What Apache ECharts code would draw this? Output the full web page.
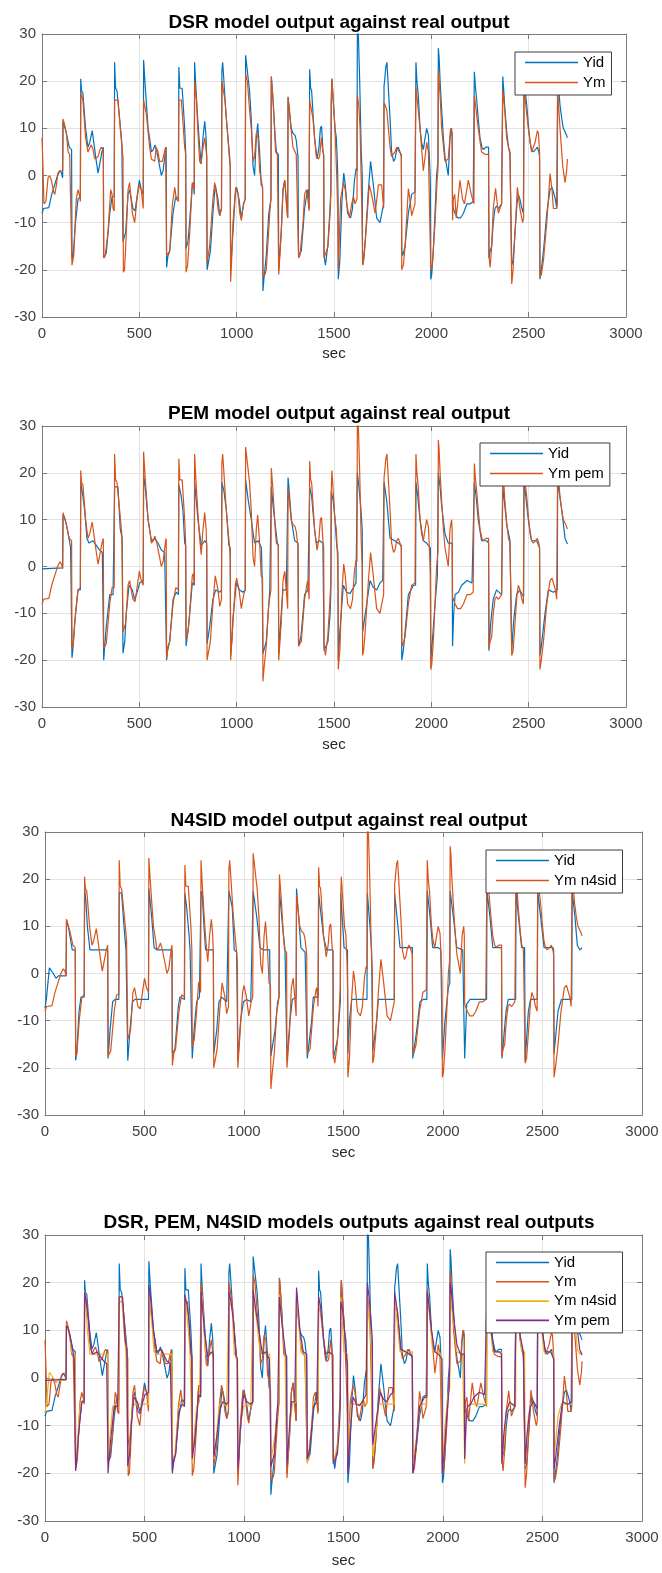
<!DOCTYPE html>
<html>
<head>
<meta charset="utf-8">
<title>model outputs against real output</title>
<script src="https://cdn.jsdelivr.net/npm/echarts@6.0.0/dist/echarts.min.js"></script>
<style>
  body { margin:0; background:#fff; }
  .box { position:absolute; left:0; width:662px; }
</style>
</head>
<body>
<div id="c1" class="box" style="top:0;height:380px"></div>
<div id="c2" class="box" style="top:380px;height:390px"></div>
<div id="c3" class="box" style="top:770px;height:395px"></div>
<div id="c4" class="box" style="top:1165px;height:408px"></div>
<script>
// [sec, value]
var yid = [
  [0,-8],[8,-7],[35,-6.8],[50,-4],[65,-2],[80,0],[92,1],[100,0.5],[106,-0.5],
  [108,11.5],[125,9],[140,6],[152,5.5],
  [154,-17.5],[160,-17],[172,-10],[185,-5],[197,-4.5],
  [199,20.5],[203,18],[210,17.5],[224,10],[236,6],[245,7],[258,9.5],[266,9.5],[279,3],[288,0.5],[298,0.5],[308,5],[315,6],
  [317,-17.5],[330,-16.5],[348,-8],[360,-4.5],[371,-4.5],
  [373,24],[378,18.5],[385,18],[399,12],[410,7],[414,7],
  [416,-14],[430,-12],[442,-4],[450,-3],[467,-7],[478,-7.5],[490,-4],[500,-1],[510,-3],[520,-4],
  [522,24.5],[530,19],[545,10],[556,7],[562,5],[572,5.5],[580,6.5],[590,5],[604,2],[613,0],[622,1],[635,5.5],[638,6],
  [640,-19.5],[647,-17],[656,-16],[673,-8],[687,-4.5],[700,-5],
  [703,23],[708,18.5],[720,18.5],[733,10],[738,5],
  [740,-15.5],[750,-14],[760,-9],[772,-2],[778,-1.5],[782,-4],
  [784,24],[790,19],[800,12],[810,6],[818,2.5],[827,8],[836,11.5],[843,8],[846,4],
  [848,-20],[856,-20],[865,-16],[878,-8],[890,-2],[904,-5],[913,-8.5],[922,-7],
  [924,22],[928,24],[933,21],[945,13],[955,8],[964,4],[967,2],
  [969,-20],[981,-12],[993,-4],[1000,-2.5],[1012,-5],[1024,-9],[1036,-6],[1044,-5],
  [1046,25.5],[1050,24],[1058,24],[1066,18],[1075,12],[1084,2],[1092,0],[1101,8],[1108,11],[1118,5],[1126,-2],[1133,-2.5],
  [1135,-24.5],[1140,-22],[1152,-17],[1165,-8],[1176,-5],
  [1178,21],[1187,16],[1198,8],[1204,5],[1214,4.5],
  [1216,-20],[1229,-12],[1238,-3],[1247,-1],[1255,-5],[1262,-9],
  [1264,16.7],[1272,13.5],[1280,10],[1289,9],[1300,8.5],[1306,7.5],[1315,4],
  [1318,-17],[1332,-16],[1349,-7],[1362,-3.5],[1366,-3],[1372,-7],
  [1375,22.5],[1380,18.5],[1385,18],[1400,8],[1413,3.5],[1423,6],[1430,10],[1436,10.5],[1443,5.5],[1447,4],
  [1449,-17],[1456,-19],[1468,-15],[1478,-8],[1484,-3],
  [1486,16],[1489,20.5],[1496,16],[1505,10],[1512,8],[1518,2],[1521,-5],
  [1522,-22],[1530,-18],[1540,-6],[1550,0.5],[1558,-2],[1570,-8],[1585,-9],[1595,-7],[1605,-1],[1614,1.5],[1618,1],
  [1620,31],[1625,30],[1632,20],[1640,5],[1645,0],
  [1647,-19],[1652,-18],[1660,-14],[1676,-3.5],[1688,3],[1702,-2],[1719,-9],[1736,-10],[1750,-7],[1755,-6],
  [1757,19],[1760,20],[1766,23],[1772,24],[1780,18],[1788,12],[1796,5],[1806,3],[1813,3.5],[1822,5.5],[1830,6],[1839,5],[1846,4],
  [1848,-16],[1853,-17],[1865,-15],[1882,-8],[1899,-4],[1916,-3.5],[1919,-3.5],
  [1921,24],[1926,20],[1933,17],[1942,10],[1950,7],[1959,5.5],[1968,8],[1976,10],[1985,8.5],[1993,1],[1995,-2],
  [1997,-22],[2002,-21],[2010,-16],[2019,-8],[2027,0],[2034,3],
  [2036,27],[2040,25],[2045,20],[2053,14],[2062,8],[2070,4],[2079,2],[2087,0],[2096,8],[2104,10],[2107,8],
  [2109,-6.5],[2122,-8],[2135,-9],[2150,-9],[2165,-8],[2183,-6],[2200,-6],[2215,-5.5],[2219,-5.5],
  [2221,22],[2226,19],[2233,16],[2241,12],[2250,8],[2260,6],[2267,5.5],[2280,6],[2294,6],
  [2296,-17.5],[2302,-16],[2310,-15],[2318,-10],[2327,-7],[2335,-6.5],[2345,-7],[2361,-6],[2365,-6],
  [2367,21],[2372,18],[2378,14],[2388,9],[2396,6],[2404,5],[2410,5],
  [2413,-19],[2420,-18],[2430,-12],[2440,-6],[2447,-4],[2455,-5],[2465,-7],[2473,-8],
  [2476,20],[2482,18],[2490,15],[2498,11],[2507,7],[2515,5.5],[2524,5],[2535,5.5],[2545,6],[2552,5],[2556,4],
  [2558,-22],[2565,-20],[2576,-16],[2593,-8],[2610,-3],[2620,-2.5],[2627,-3.5],[2637,-5],[2644,-7],[2647,-7],
  [2649,22],[2655,18],[2661,15],[2670,12],[2678,10],[2690,9],[2699,8]
];

var ymDsr = [
  [0,8],[5,2],[10,-6],[20,-5.5],[31,-0.5],[39,0],[48,-1],[60,-3.5],[66,-4],[74,-2],[82,0.5],[91,1],[106,1],
  [108,12],[115,11],[125,9],[134,5],[142,4.5],[152,4.5],
  [154,-19],[163,-17],[176,-5],[185,-3],[194,-4.5],[197,-5.5],
  [199,17.5],[210,16],[224,8],[236,5],[245,5],[253,6.5],[262,5.5],[271,3.5],[280,3.5],[288,4],[298,5.5],[305,6],[315,5.5],
  [317,-17.5],[325,-17],[339,-12],[353,-3],[360,-4],[365,-7],[371,-7.5],
  [373,16],[390,16],[402,10],[413,5],[416,4],
  [418,-20.5],[424,-20],[430,-15],[442,-3],[450,-1.5],[464,-8],[476,-10],[488,-5],[498,-2],[510,-3],[520,-7],
  [522,16],[536,13],[553,6],[562,3.5],[579,3],[587,6],[596,5],[604,3],[618,3],[635,6],[638,6],
  [640,-17],[656,-16],[670,-6],[682,-2.5],[690,-5],[701,-5.5],
  [703,16],[716,16],[726,10],[733,6],[738,4.5],
  [740,-20.5],[748,-19],[759,-12],[772,-1.5],[782,-3],
  [784,20],[793,16],[800,10],[810,3],[816,2.5],[824,5],[836,8],[844,5],[846,4],
  [848,-18.5],[861,-15],[878,-5],[887,-1.5],[897,-4],[904,-7],[913,-8.5],[922,-7],
  [924,20],[940,16],[955,8],[964,3],[967,2],
  [969,-22.5],[974,-18],[981,-10],[995,-2.5],[1007,-4],[1016,-8],[1024,-9.5],[1035,-6],[1044,-5],
  [1046,21.5],[1055,20],[1066,14],[1075,10],[1084,3],[1092,4],[1101,9],[1110,8],[1118,1],[1133,-2.5],
  [1135,-21.5],[1145,-21],[1152,-20],[1170,-8],[1176,-5],
  [1178,21],[1187,16],[1200,5],[1209,4.5],[1214,4.5],
  [1216,-21],[1229,-12],[1238,-3],[1247,-1],[1255,-6],[1262,-9],
  [1264,16.5],[1272,13],[1289,6],[1306,4.5],[1315,4.5],
  [1318,-17.5],[1325,-17],[1341,-10],[1349,-4],[1358,-3],[1366,-5],[1372,-7.5],
  [1375,16],[1392,12],[1409,4],[1420,3.5],[1426,4],[1435,8],[1443,5],[1447,4.5],
  [1449,-17.5],[1469,-15],[1480,-8],[1484,-4],
  [1486,15],[1489,20.5],[1496,16],[1505,10],[1514,0],[1519,-8],
  [1522,-20],[1526,-15],[1534,-5],[1548,-1.5],[1558,-3],[1565,-6],[1579,-9],[1591,-6],[1600,-4.5],[1608,-6],[1618,-5],
  [1620,17],[1627,15],[1634,10],[1642,-5],[1645,-12],
  [1647,-19],[1655,-17],[1668,-10],[1681,-2],[1693,-4],[1711,-8],[1720,-5],[1728,-2],[1745,-2],[1755,-7],
  [1757,15.5],[1771,14],[1788,6],[1796,4],[1805,4],[1813,5],[1822,6],[1836,5],[1846,4.5],
  [1848,-20],[1856,-19],[1865,-15],[1882,-2.8],[1890,-5],[1899,-8.5],[1916,-6],[1919,-6],
  [1921,18.7],[1930,15],[1942,10],[1959,1],[1968,4],[1976,7],[1985,5],[1995,5],
  [1997,-20],[2005,-19],[2019,-10],[2031,0],[2034,1],
  [2036,22.5],[2045,17],[2053,10],[2070,3],[2087,3.5],[2099,10],[2107,9],
  [2109,-9.5],[2113,-5],[2120,-4],[2128,-9],[2147,-1],[2160,-5],[2170,-6],[2190,-1],[2205,-4],[2219,-6],
  [2221,17],[2241,10],[2258,5],[2276,4.5],[2294,4.5],
  [2296,-17],[2302,-19.5],[2310,-15],[2318,-7],[2330,-2.7],[2344,-8],[2361,-6],[2365,-6],
  [2367,18],[2375,15],[2387,8],[2404,4.5],[2410,4.5],
  [2413,-23],[2420,-20],[2430,-12],[2442,-2.5],[2455,-7],[2469,-10],[2474,-9],
  [2476,19],[2485,15],[2498,10],[2515,5],[2533,7],[2545,9.5],[2550,9],[2556,5],
  [2558,-21.5],[2565,-21],[2576,-18],[2593,-10],[2610,0.4],[2620,-3],[2627,-7],[2644,-7],[2647,-6],
  [2649,18],[2661,10],[2675,2],[2687,-1.5],[2695,1],[2699,3.5]
];

var ymPem = [
  [0,-0.5],[5,-0.3],[106,-0.3],
  [108,11],[116,10.5],[125,9],[134,7],[147,4],[152,4],
  [154,-19.5],[158,-18],[168,-12],[185,-5],[197,-5],
  [199,18],[210,15],[219,12],[231,6],[241,5],[262,5.5],[279,4.5],[296,3.5],[310,3],[315,3],
  [317,-20],[322,-17],[330,-13],[348,-6],[365,-6],[371,-6],
  [373,17],[390,17],[402,8],[412,6],[414,6],
  [416,-18.5],[425,-16],[433,-10],[447,-4],[464,-5],[476,-7],[485,-6],[502,-3.5],[520,-3],
  [522,19.5],[530,17],[545,10],[562,5.5],[579,6],[596,5],[613,3.5],[630,3],[638,3],
  [640,-20],[645,-18],[656,-16],[673,-7],[690,-5.5],[701,-6],
  [703,17.5],[715,15],[724,12],[733,5],[738,4.5],
  [740,-17],[755,-12],[772,-3.5],[782,-4],
  [784,18],[795,13],[801,10],[818,4.5],[836,5.5],[846,5],
  [848,-16.5],[861,-13],[878,-7],[892,-5],[913,-5.5],[922,-5],
  [924,18],[935,16],[947,12],[960,4.5],[967,4],
  [969,-19],[975,-16],[981,-11],[998,-3.5],[1015,-5],[1032,-5.5],[1044,-5],
  [1046,18.5],[1060,14],[1075,10],[1092,5],[1110,5.5],[1127,4],[1131,-2.5],[1133,-2.5],
  [1135,-18.6],[1152,-16],[1170,-5],[1176,-5],
  [1178,17],[1187,13],[1195,10],[1209,5],[1214,4.5],
  [1216,-18.5],[1229,-10],[1238,-5],[1255,-5],[1262,-5],
  [1264,19],[1272,15],[1281,10],[1298,5.5],[1315,5],
  [1318,-17],[1330,-15],[1341,-10],[1349,-6],[1366,-5],[1373,-5],
  [1375,17],[1385,15],[1400,8],[1409,5],[1426,5.5],[1443,5],[1447,5],
  [1449,-18],[1469,-16],[1480,-10],[1484,-5],
  [1486,16],[1496,14],[1505,10],[1514,4.5],[1520,3],
  [1522,-20],[1530,-14],[1548,-4],[1565,-5.5],[1582,-5.8],[1600,-4.5],[1613,-3.5],[1618,-3.5],
  [1620,20],[1628,17],[1637,13],[1645,8],
  [1647,-14],[1651,-14],[1668,-8],[1685,-3],[1702,-4.5],[1719,-5],[1736,-3.5],[1750,-3],[1755,-3],
  [1757,18],[1771,14],[1788,6],[1813,5.5],[1830,5],[1846,4.5],
  [1848,-20],[1856,-18],[1865,-14],[1882,-6],[1908,-4],[1919,-4],
  [1921,18],[1930,15],[1942,10],[1959,5.5],[1976,5],[1995,4],
  [1997,-20],[2005,-16],[2019,-8],[2031,-2],[2034,-2],
  [2036,20],[2045,17],[2053,13],[2070,7],[2087,5],[2107,5],
  [2109,-17],[2115,-10],[2122,-6],[2139,-5.5],[2156,-4],[2183,-3],[2209,-3.5],[2219,-3.5],
  [2221,18],[2230,15],[2241,10],[2258,5.5],[2284,5.5],[2294,5],
  [2296,-18],[2305,-12],[2318,-7],[2335,-5],[2361,-6],[2365,-6],
  [2367,17],[2375,14],[2387,9],[2404,5.5],[2410,5.5],
  [2413,-18],[2422,-12],[2438,-6],[2455,-5],[2474,-6.5],
  [2476,18],[2485,15],[2498,10],[2515,5.5],[2541,5.5],[2556,4],
  [2558,-19],[2565,-17],[2584,-10],[2601,-5],[2627,-5.5],[2647,-5],
  [2649,18],[2660,15],[2670,12],[2687,6],[2699,4.8]
];

var ymN4sid = [
  [0,-7.4],[8,-5],[22,1.2],[28,1.2],[42,0],[55,-1],[67,-0.5],[106,-0.5],
  [108,11.3],[117,10],[129,7],[137,5],[152,5],
  [154,-18.4],[159,-17],[171,-8],[181,-5],[197,-5],
  [199,18.2],[206,15],[213,10],[226,5],[243,5],[276,5],[315,5],
  [317,-18],[327,-12],[340,-6],[352,-5.5],[371,-5.5],
  [373,17.2],[385,17],[397,10],[407,5],[414,5],
  [416,-18.5],[427,-12],[440,-6],[452,-5.5],[520,-5.5],
  [522,18],[536,12],[548,5.5],[561,5],[638,5],
  [640,-17],[653,-16],[670,-7],[678,-5],[701,-5.5],
  [703,17],[712,14],[724,8],[729,5],[738,5],
  [740,-18],[749,-12],[762,-6],[776,-5],[782,-5],
  [784,17.5],[790,17],[799,10],[807,5],[846,5],
  [848,-17],[863,-12],[874,-6],[888,-5],[913,-6],[922,-6],
  [924,17.5],[941,14],[951,5],[963,4.5],[967,4.5],
  [969,-18.5],[983,-10],[997,-6],[1013,-5.5],[1034,-6],[1044,-6],
  [1046,17.5],[1064,12],[1080,5.5],[1097,5],[1129,5],[1131,-2],[1133,-2],
  [1135,-17.5],[1156,-12],[1169,-6],[1176,-5],
  [1178,17.5],[1194,10],[1206,5],[1214,5],
  [1216,-18.5],[1231,-10],[1243,-5.5],[1262,-5],
  [1264,18],[1273,13],[1286,5.5],[1307,4.5],[1315,4.5],
  [1318,-18],[1340,-10],[1348,-5],[1373,-5],
  [1375,17],[1399,8],[1415,5],[1447,5],
  [1449,-18],[1470,-14],[1484,-6],
  [1486,17],[1491,17],[1503,5.5],[1520,5],
  [1522,-17],[1530,-10],[1541,-5.5],[1618,-5.5],
  [1620,17],[1633,10],[1641,5],[1645,5],
  [1647,-16.4],[1667,-10],[1675,-5.5],[1755,-5.5],
  [1757,17],[1767,17],[1784,5.5],[1846,5.5],
  [1848,-18],[1868,-12],[1884,-6],[1901,-5.5],[1919,-5.5],
  [1921,17.5],[1935,12],[1948,5.5],[1977,5.5],[1989,5],[1995,5],
  [1997,-18],[2010,-10],[2027,-3],[2034,-2],
  [2036,17.5],[2052,12],[2069,5.5],[2099,5],[2107,5],
  [2109,-18],[2119,-6.5],[2136,-5.5],[2219,-5.5],
  [2221,17.5],[2236,12],[2250,5.5],[2294,5.5],
  [2296,-18],[2317,-8],[2328,-5.5],[2365,-5.5],
  [2367,17.5],[2384,10],[2395,5.5],[2410,5.5],
  [2413,-18.5],[2429,-8],[2440,-5.5],[2474,-5.5],
  [2476,17.5],[2496,10],[2508,5.5],[2552,5.5],[2556,5],
  [2558,-17],[2578,-8],[2595,-5.5],[2647,-5.5],
  [2649,17.5],[2663,12],[2675,6],[2688,5],[2699,5.5]
];

var xRange = [0, 3000, 500];
var yRange = [-30, 30, 10];

var FONT = '"Liberation Sans", Arial, Helvetica, sans-serif';
var AX = '#7a7a7a';
var BLUE = '#0072BD', ORANGE = '#D95319', YELLOW = '#EDB120', PURPLE = '#7E2F8E';

// plain numbers, no thousands separator
function plain(v) { return String(v); }

function draw(id, o) {
  var chart = echarts.init(document.getElementById(id));
  var tick = {show:true, inside:true, length:5, lineStyle:{color:AX}};
  var line = {show:true, onZero:false, lineStyle:{color:AX, width:1}};
  var grid = {show:true, lineStyle:{color:'#e2e2e2', width:1}};
  chart.setOption({
    animation: false,
    textStyle: {fontFamily: FONT},
    title: {
      text: o.title, left: o.cx, textAlign: 'center', top: o.titleTop,
      textStyle: {fontFamily: FONT, fontSize: 19, fontWeight: 'bold', color: '#000'}
    },
    legend: {
      orient: 'vertical', left: o.lgLeft, top: o.lgTop,
      data: o.series.map(function (s) { return s.name; }),
      icon: 'rect', itemWidth: 53, itemHeight: 1.6, itemGap: o.lgGap || 5,
      padding: [3, 6, 5, 10],
      backgroundColor: '#fff', borderColor: '#3c3c3c', borderWidth: 1,
      textStyle: {fontFamily: FONT, fontSize: 15, color: '#000', lineHeight: 15}
    },
    grid: {left: o.left, top: o.top, width: o.width, height: o.height},
    xAxis: [
      {type: 'value', min: xRange[0], max: xRange[1], interval: xRange[2], position: 'bottom',
       name: 'sec', nameLocation: 'middle', nameGap: o.nameGap,
       nameTextStyle: {fontFamily: FONT, fontSize: 15, color: '#262626'},
       axisLine: line, axisTick: tick,
       axisLabel: {fontFamily: FONT, fontSize: 15, color: '#404040', margin: 9, formatter: plain},
       splitLine: grid},
      {type: 'value', min: xRange[0], max: xRange[1], interval: xRange[2], position: 'top',
       axisLine: line, axisTick: tick, axisLabel: {show: false}, splitLine: {show: false}}
    ],
    yAxis: [
      {type: 'value', min: yRange[0], max: yRange[1], interval: yRange[2], position: 'left',
       axisLine: line, axisTick: tick,
       axisLabel: {fontFamily: FONT, fontSize: 15, color: '#404040', margin: 6, formatter: plain},
       splitLine: grid},
      {type: 'value', min: yRange[0], max: yRange[1], interval: yRange[2], position: 'right',
       axisLine: line, axisTick: tick, axisLabel: {show: false}, splitLine: {show: false}}
    ],
    series: o.series.map(function (s) {
      return {
        name: s.name, type: 'line', data: s.data, color: s.color,
        xAxisIndex: 0, yAxisIndex: 0,
        showSymbol: false, symbol: 'none', clip: true,
        lineStyle: {color: s.color, width: 1.2},
        emphasis: {disabled: true}
      };
    })
  });
}

draw('c1', {
  title: 'DSR model output against real output', cx: 334, titleTop: 8,
  left: 42, top: 34, width: 584, height: 283, nameGap: 27,
  lgLeft: 515, lgTop: 52,
  series: [
    {name: 'Yid', data: yid, color: BLUE},
    {name: 'Ym', data: ymDsr, color: ORANGE}
  ]
});

draw('c2', {
  title: 'PEM model output against real output', cx: 334, titleTop: 19,
  left: 42, top: 46, width: 584, height: 281, nameGap: 30,
  lgLeft: 480, lgTop: 63,
  series: [
    {name: 'Yid', data: ymPem, color: BLUE},
    {name: 'Ym pem', data: yid, color: ORANGE}
  ]
});

draw('c3', {
  title: 'N4SID model output against real output', cx: 344, titleTop: 36,
  left: 45, top: 62, width: 597, height: 290, nameGap: 30,
  lgLeft: 486, lgTop: 80,
  series: [
    {name: 'Yid', data: ymN4sid, color: BLUE},
    {name: 'Ym n4sid', data: yid, color: ORANGE}
  ]
});

draw('c4', {
  title: 'DSR, PEM, N4SID models outputs against real outputs', cx: 344, titleTop: 43,
  left: 45, top: 70, width: 597, height: 288, nameGap: 32,
  lgLeft: 486, lgTop: 87, lgGap: 4.3,
  series: [
    {name: 'Yid', data: yid, color: BLUE},
    {name: 'Ym', data: ymDsr, color: ORANGE},
    {name: 'Ym n4sid', data: ymN4sid, color: YELLOW},
    {name: 'Ym pem', data: ymPem, color: PURPLE}
  ]
});
</script>
</body>
</html>
